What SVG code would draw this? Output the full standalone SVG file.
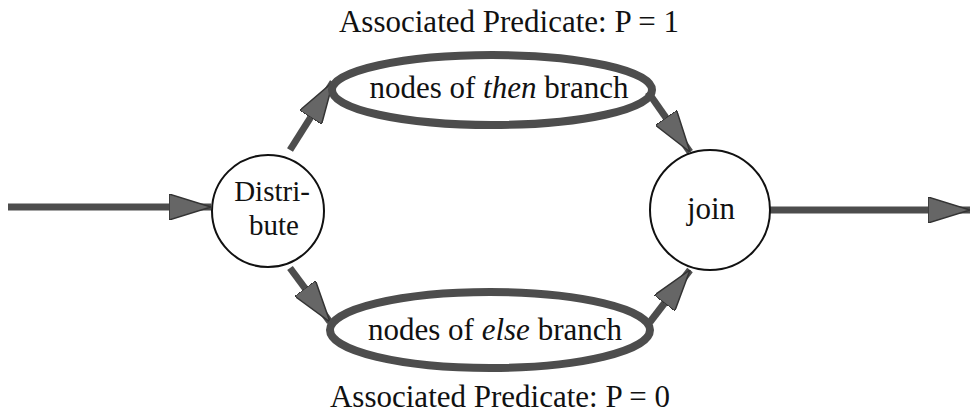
<svg xmlns="http://www.w3.org/2000/svg" width="971" height="415" viewBox="0 0 971 415">
<style>
text{font-family:"Liberation Serif","Times New Roman",serif;font-size:31px;fill:#111;text-anchor:middle}
.circ{fill:#fff;stroke:#111;stroke-width:2}
.ell{fill:none;stroke:#4d4d4d;stroke-width:8}
.edge{fill:none;stroke:#4d4d4d;stroke-width:7;marker-end:url(#ah)}
</style>
<defs>
<marker id="ah" markerUnits="userSpaceOnUse" viewBox="0 0 42 26" refX="42" refY="13" markerWidth="42" markerHeight="26" orient="auto">
<path d="M0,0 L42,13 L0,26 z" fill="#666" stroke="#333" stroke-width="1.5"/>
</marker>
</defs>
<g id="connectors">
<line class="edge" x1="8" y1="207" x2="211" y2="207"/>
<line class="edge" x1="290" y1="150" x2="333" y2="82"/>
<line class="edge" x1="648" y1="92" x2="690" y2="152"/>
<line class="edge" x1="290" y1="268" x2="330" y2="322"/>
<line class="edge" x1="650" y1="322" x2="690" y2="270"/>
<line class="edge" x1="769" y1="210" x2="970" y2="210"/>
</g>
<g id="distribute">
<circle class="circ" cx="268" cy="211" r="56"/>
<text x="272" y="201" style="font-size:29px">Distri-</text>
<text x="274" y="235" style="font-size:29px">bute</text>
</g>
<g id="join">
<circle class="circ" cx="710" cy="210" r="60"/>
<text x="711" y="219">join</text>
</g>
<g id="then-branch">
<ellipse class="ell" cx="492" cy="90" rx="160" ry="35"/>
<text x="499" y="98">nodes of <tspan font-style="italic">then</tspan> branch</text>
</g>
<g id="else-branch">
<ellipse class="ell" cx="490" cy="330" rx="160" ry="38"/>
<text x="495" y="340">nodes of <tspan font-style="italic">else</tspan> branch</text>
</g>
<g id="label-top">
<text x="509" y="32">Associated Predicate: P = 1</text>
</g>
<g id="label-bottom">
<text x="500" y="407">Associated Predicate: P = 0</text>
</g>
</svg>
